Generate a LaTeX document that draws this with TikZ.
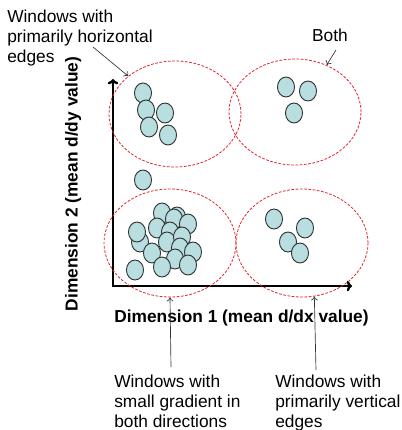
\documentclass[tikz,border=0pt]{standalone}
\usepackage{fontspec}
\setmainfont{Liberation Sans}
\usetikzlibrary{shapes.geometric,arrows.meta}
\definecolor{dotfill}{HTML}{B8DEE0}
\definecolor{ringred}{HTML}{E0242C}

\begin{document}
\begin{tikzpicture}[x=0.75pt,y=-0.75pt,
    ring/.style={draw=ringred,line width=0.6pt,dash pattern=on 2pt off 1.2pt,
      ellipse,minimum width=99pt,minimum height=81pt,inner sep=0pt},
    dot/.style={fill=dotfill,draw=black!80,line width=0.7pt},
    axis/.style={line width=1.8pt,{To[length=4pt,width=8pt]}-{To[length=4pt,width=8pt]}},
    note/.style={align=left,anchor=base west,inner sep=0pt,font=\fontsize{13}{15}\selectfont},
    pointer/.style={draw=black!80,line width=0.5pt,-{To[length=3pt,width=5pt]}},
    dimlabel/.style={font=\fontsize{13}{15}\selectfont\bfseries,inner sep=0pt,anchor=base}]
    \useasboundingbox (0,0) rectangle (402,430);
    % axes
    \coordinate (ytop) at (113,79);
    \coordinate (corner) at (113,286);
    \coordinate (xend) at (352,286);
    \draw[axis] (ytop) -- (corner) -- (xend);
    \node[dimlabel] (xlab) at (241.5,322.5) {Dimension 1 (mean d/dx value)};
    \node[dimlabel,rotate=90] (ylab) at (77.5,184) {Dimension 2 (mean d/dy value)};
    % groups
    \node[ring,minimum height=79.5pt] (hor) at (175,114) {};
    \node[ring,minimum height=79.5pt] (both) at (295,112) {};
    \node[ring] (small) at (170,243) {};
    \node[ring] (vert) at (302,243) {};
    % windows
    \foreach \p in {(143,93),(146,110),(165,113),(149,127),(168,135),(143,180),
                    (286,87),(308,91),(294,113),
                    (274,219),(305,228),(288,242),(300,253)}
      \draw[dot] \p ellipse [x radius=6.4pt,y radius=7.5pt];
    \foreach \p in {(140,242),(137,232),(152,253),(135,270),(177,217),(162,213),
                    (174,219),(157,228),(188,224),(170,232),(167,242),(182,237),
                    (180,248),(193,252),(175,259),(188,265),(162,267)}
      \draw[dot] \p ellipse [x radius=6.4pt,y radius=7.5pt];
    % labels (anchored on the last line)
    \node[note] (hortext) at (7,62.7) {Windows with\\primarily horizontal\\edges};
    \node[note,anchor=base] (bothtext) at (330,41.7) {Both};
    \node[note] (smalltext) at (114,427) {Windows with\\small gradient in\\both directions};
    \node[note] (verttext) at (275,427) {Windows with\\primarily vertical\\edges};
    \coordinate (hortail) at (93,47);
    \coordinate (bothtail) at (336,50);
    \coordinate (smalltail) at (171,367);
    \coordinate (verttail) at (316,370);
    \draw[pointer] (hortail) -- (hor.141);
    \draw[pointer] (bothtail) -- (both.56);
    \draw[pointer] (smalltail) -- (small.south);
    \draw[pointer] (verttail) -- (vert.-77);
\end{tikzpicture}
\end{document}
